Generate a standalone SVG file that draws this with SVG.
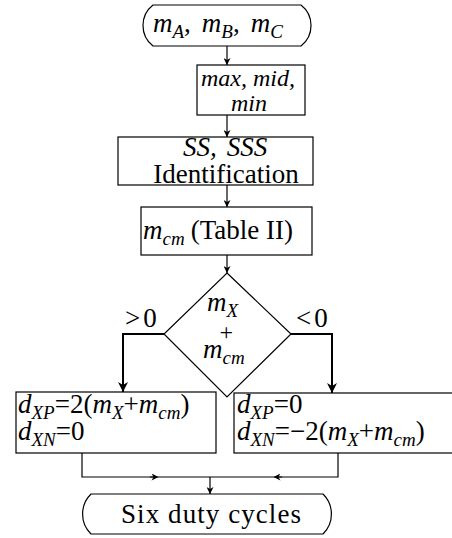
<svg xmlns="http://www.w3.org/2000/svg" width="452" height="538" viewBox="0 0 452 538">
<style>
text{font-family:"Liberation Serif","Times New Roman","DejaVu Serif",serif;font-size:27px;fill:#000}
.i{font-style:italic}
.s{font-size:19px;font-style:italic}
.box{fill:#fff;stroke:#000;stroke-width:1.2}
.c{fill:none;stroke:#000;stroke-width:1.2}
.t{fill:none;stroke:#000;stroke-width:2}
</style>
<defs>
<marker id="a" viewBox="0 0 10 10" refX="10" refY="5" markerWidth="7" markerHeight="7" markerUnits="userSpaceOnUse" orient="auto"><path d="M0,0 L10,5 L0,10 L3,5 Z" fill="#000"/></marker>
<marker id="b" viewBox="0 0 10 10" refX="10" refY="5" markerWidth="12" markerHeight="10" markerUnits="userSpaceOnUse" orient="auto"><path d="M0,0 L10,5 L0,10 L3,5 Z" fill="#000"/></marker>
<marker id="m" viewBox="0 0 10 10" refX="5" refY="5" markerWidth="8" markerHeight="7" markerUnits="userSpaceOnUse" orient="auto"><path d="M0,0 L10,5 L0,10 L3,5 Z" fill="#000"/></marker>
</defs>
<g id="connectors">
<line class="c" x1="227" y1="46" x2="227" y2="65" marker-end="url(#a)"/>
<line class="c" x1="227" y1="115" x2="227" y2="137" marker-end="url(#a)"/>
<line class="c" x1="227" y1="185" x2="227" y2="207" marker-end="url(#a)"/>
<line class="c" x1="227" y1="255" x2="227" y2="273" marker-end="url(#a)"/>
<polyline class="t" points="164,334 123,334 123,392" marker-end="url(#b)"/>
<polyline class="t" points="291,334 332,334 332,393" marker-end="url(#b)"/>
<polyline class="c" points="82,453 82,477 155,477" marker-end="url(#m)"/>
<line class="c" x1="150" y1="477" x2="210" y2="477"/>
<polyline class="c" points="338,453 338,477 277,477" marker-end="url(#m)"/>
<line class="c" x1="282" y1="477" x2="210" y2="477"/>
<line class="c" x1="210" y1="477" x2="210" y2="494" marker-end="url(#a)"/>
<text x="125" y="327">&gt;<tspan dx="3">0</tspan></text>
<text x="296" y="327">&lt;<tspan dx="3">0</tspan></text>
</g>
<g id="start">
<path class="box" d="M153,5 H301 A26,26 0 0 1 301,46 H153 A26,26 0 0 1 153,5 Z"/>
<text x="153" y="32"><tspan class="i">m</tspan><tspan class="s" dy="6">A</tspan><tspan dy="-6">,</tspan><tspan class="i" dx="11">m</tspan><tspan class="s" dy="6">B</tspan><tspan dy="-6">,</tspan><tspan class="i" dx="11">m</tspan><tspan class="s" dy="6">C</tspan></text>
</g>
<g id="sort">
<rect class="box" x="197" y="65" width="108" height="50"/>
<text class="i" style="font-size:24px" text-anchor="middle"><tspan x="248" y="86">max, mid,</tspan><tspan x="249" y="111">min</tspan></text>
</g>
<g id="ident">
<rect class="box" x="118" y="137" width="195" height="48"/>
<text text-anchor="middle"><tspan x="225" y="156" class="i">SS,<tspan dx="10">SSS</tspan></tspan><tspan x="226" y="183">Identification</tspan></text>
</g>
<g id="mcm">
<rect class="box" x="141" y="207" width="171" height="48"/>
<text x="143" y="239"><tspan class="i">m</tspan><tspan class="s" dy="6">cm</tspan><tspan dy="-6" dx="6">(Table II)</tspan></text>
</g>
<g id="decision">
<polygon class="box" points="227,273 291,334 227,397 164,334"/>
<text><tspan x="207" y="311" class="i">m</tspan><tspan class="s" dy="6">X</tspan><tspan x="219.5" y="340" style="font-size:24px">+</tspan><tspan x="203" y="358" class="i">m</tspan><tspan class="s" dy="6">cm</tspan></text>
</g>
<g id="positive">
<rect class="box" x="16" y="392" width="200" height="61"/>
<text><tspan x="18" y="413" class="i">d</tspan><tspan class="s" dy="6">XP</tspan><tspan dy="-6">=2(</tspan><tspan class="i">m</tspan><tspan class="s" dy="6">X</tspan><tspan dy="-6">+</tspan><tspan class="i">m</tspan><tspan class="s" dy="6">cm</tspan><tspan dy="-6">)</tspan><tspan x="18" y="440" class="i">d</tspan><tspan class="s" dy="6">XN</tspan><tspan dy="-6">=0</tspan></text>
</g>
<g id="negative">
<rect class="box" x="234" y="393" width="230" height="60"/>
<text><tspan x="237" y="413" class="i">d</tspan><tspan class="s" dy="6">XP</tspan><tspan dy="-6">=0</tspan><tspan x="237" y="440" class="i">d</tspan><tspan class="s" dy="6">XN</tspan><tspan dy="-6">=−2(</tspan><tspan class="i">m</tspan><tspan class="s" dy="6">X</tspan><tspan dy="-6">+</tspan><tspan class="i">m</tspan><tspan class="s" dy="6">cm</tspan><tspan dy="-6">)</tspan></text>
</g>
<g id="end">
<path class="box" d="M91,494 H323 A28,28 0 0 1 323,534 H91 A28,28 0 0 1 91,494 Z"/>
<text x="121" y="523" textLength="180" lengthAdjust="spacing">Six duty cycles</text>
</g>
</svg>
